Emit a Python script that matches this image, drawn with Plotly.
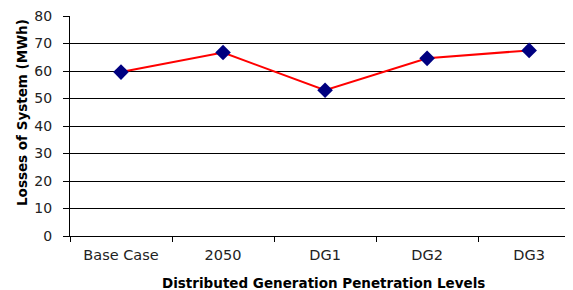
import plotly.graph_objects as go

categories = ["Base Case", "2050", "DG1", "DG2", "DG3"]
losses = [59.6, 66.7, 53.0, 64.6, 67.5]
y_ticks = [0, 10, 20, 30, 40, 50, 60, 70, 80]

# page body has an 8px margin; size the figure so the window shows it like the reference
W, H = 565, 282
L, T, B, R = 62, 8, 54, 0
PW, PH = W - L - R, H - T - B

fig = go.Figure()
fig.add_trace(go.Scatter(
    x=categories, y=losses, mode="lines+markers",
    line=dict(color="#ff0000", width=2),
    marker=dict(symbol="diamond", size=12, color="#000080"),
    showlegend=False, cliponaxis=False,
))

fig.update_layout(
    width=W, height=H,
    margin=dict(l=L, r=R, t=T, b=B),
    paper_bgcolor="white", plot_bgcolor="white",
    font=dict(family="DejaVu Sans, sans-serif", size=14, color="#222"),
    xaxis=dict(
        type="category", range=[-0.5, 4.43], automargin=False,
        showline=True, linecolor="black", linewidth=1,
        ticks="outside", tickson="boundaries", ticklen=5, tickcolor="black",
        ticklabelstandoff=6, tickfont=dict(size=14.5),
        showgrid=False, ticklabeloverflow="allow",
    ),
    yaxis=dict(
        range=[0, 80], tickvals=y_ticks, automargin=False,
        showline=True, linecolor="black", linewidth=1,
        ticks="outside", ticklen=6, tickcolor="black",
        ticklabelstandoff=8, tickfont=dict(size=14),
        showgrid=True, gridcolor="black", gridwidth=1,
        zeroline=False, ticklabeloverflow="allow",
    ),
    annotations=[
        dict(text="<b>Distributed Generation Penetration Levels</b>",
             xref="paper", yref="paper", x=(323 - 70) / PW, y=-(283 - 236) / PH,
             xanchor="center", yanchor="middle", showarrow=False,
             font=dict(size=13.5, color="black")),
        dict(text="<b>Losses of System (MWh)</b>",
             xref="paper", yref="paper", x=-(70 - 22) / PW, y=(236 - 113) / PH,
             xanchor="center", yanchor="middle", showarrow=False, textangle=-90,
             font=dict(size=13.5, color="black")),
    ],
)

fig.write_html("out.html")
